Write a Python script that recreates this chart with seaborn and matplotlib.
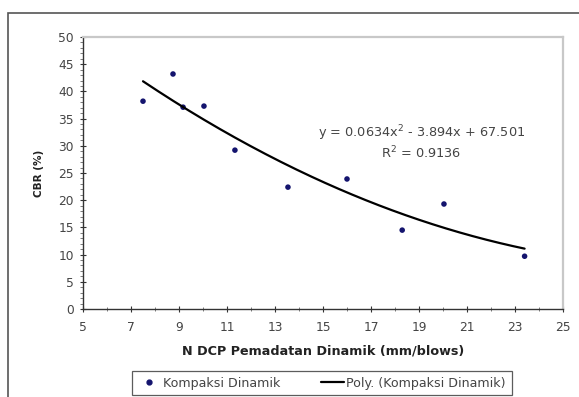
import matplotlib
matplotlib.use("Agg")
import matplotlib.pyplot as plt
import seaborn as sns
import numpy as np
import pandas as pd
from matplotlib.patches import Rectangle
from matplotlib.lines import Line2D
from matplotlib.ticker import MultipleLocator

# data
n_dcp = [7.5, 8.75, 9.17, 10.04, 11.33, 13.54, 16.0, 18.3, 20.04, 23.4]
cbr = [38.2, 43.2, 37.1, 37.3, 29.2, 22.4, 23.9, 14.5, 19.3, 9.7]
poly_coef = [0.0634, -3.894, 67.501]   # trend-line coefficients (x^2, x, 1)
x_ticks = [5, 7, 9, 11, 13, 15, 17, 19, 21, 23, 25]
y_ticks = [0, 5, 10, 15, 20, 25, 30, 35, 40, 45, 50]
eq_text = "y = 0.0634x$^2$ - 3.894x + 67.501"
r2_text = "R$^2$ = 0.9136"

sns.set_style("white")
plt.rcParams['font.family'] = ['DejaVu Sans']
plt.rcParams['mathtext.fontset'] = 'dejavusans'

W, H = 579, 397
fig = plt.figure(figsize=(W / 100, H / 100), dpi=100)
ax = fig.add_axes([83 / W, 1 - 309 / H, (563 - 83) / W, (309 - 37) / H])

df = pd.DataFrame({"x": n_dcp, "y": cbr})
sns.scatterplot(data=df, x="x", y="y", ax=ax, color="#14146e", s=16,
                edgecolor="none", zorder=2, legend=False)

xs = np.linspace(min(n_dcp), max(n_dcp), 200)
ys = np.polyval(poly_coef, xs)
sns.lineplot(x=xs, y=ys, ax=ax, color="black", linewidth=1.6, zorder=3,
             estimator=None, sort=False)

ax.set_xlim(5, 25)
ax.set_ylim(0, 50)
ax.set_xticks(x_ticks)
ax.set_yticks(y_ticks)
ax.xaxis.set_minor_locator(MultipleLocator(1))
ax.yaxis.set_minor_locator(MultipleLocator(1))
ax.tick_params(axis="both", which="both", bottom=True, left=True)
ax.tick_params(axis="both", which="major", direction="inout", length=5,
               width=0.8, color="#333333", labelsize=8.8, labelcolor="#444444")
ax.tick_params(axis="x", which="major", pad=6)
ax.tick_params(axis="y", which="major", pad=4)
ax.tick_params(axis="x", which="minor", direction="inout", length=3,
               width=0.6, color="#666666")
ax.tick_params(axis="y", which="minor", direction="out", length=2.5,
               width=0.6, color="#666666")

for side in ["left", "bottom"]:
    ax.spines[side].set_color("#333333")
    ax.spines[side].set_linewidth(1.0)
for side in ["top", "right"]:
    ax.spines[side].set_color("#c8c8c8")
    ax.spines[side].set_linewidth(1.6)

ax.set_xlabel("N DCP Pemadatan Dinamik (mm/blows)", fontsize=9.2,
              fontweight="bold", color="#222222", labelpad=8)
ax.set_ylabel("CBR (%)", fontsize=7.5, fontweight="bold", color="#222222",
              labelpad=10)

ax.text(19.1, 32.4, eq_text, ha="center", va="center", fontsize=9.3, color="#444444")
ax.text(19.1, 28.7, r2_text, ha="center", va="center", fontsize=9.3, color="#444444")

# outer chart frame
fig.patches.append(Rectangle((8 / W, -0.05), 1.0, 1 - 13 / H + 0.05,
                             transform=fig.transFigure, fill=False,
                             edgecolor="#555555", linewidth=1.2, clip_on=False))

handles = [Line2D([], [], marker="o", linestyle="none", color="#14146e",
                  markersize=3.5),
           Line2D([], [], color="black", linewidth=1.6)]
leg = fig.legend(handles, ["Kompaksi Dinamik", "Poly. (Kompaksi Dinamik)"],
                 loc="center", bbox_to_anchor=(322 / W, 1 - 383 / H),
                 ncol=2, frameon=True, fancybox=False, fontsize=9.1,
                 handlelength=1.8, handletextpad=0.2, columnspacing=3.2,
                 borderpad=0.45, borderaxespad=0, labelcolor="#444444")
leg.get_frame().set_edgecolor("#333333")
leg.get_frame().set_linewidth(0.9)

fig.savefig("out.png", dpi=100)
